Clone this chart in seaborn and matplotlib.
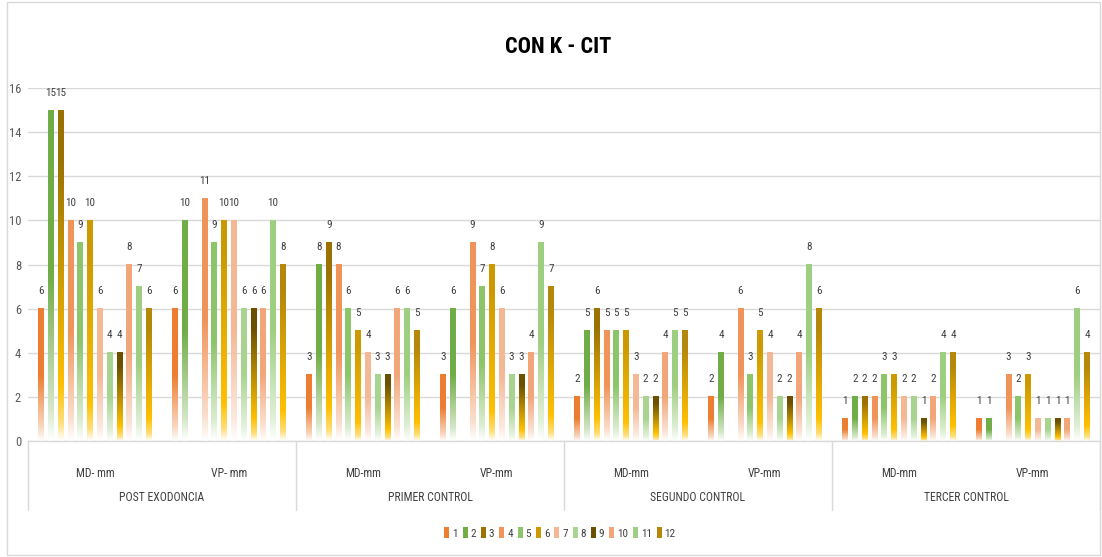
import numpy as np
import pandas as pd
import matplotlib
matplotlib.use("Agg")
import matplotlib.pyplot as plt
import seaborn as sns
from matplotlib import font_manager
from matplotlib.patches import Rectangle, Patch
from matplotlib.colors import to_rgb

# ---------------- data ----------------
categories = ["MD- mm", "VP- mm", "MD-mm", "VP-mm", "MD-mm", "VP-mm", "MD-mm", "VP-mm"]
phases = ["POST EXODONCIA", "PRIMER CONTROL", "SEGUNDO CONTROL", "TERCER CONTROL"]
series_names = ["1", "2", "3", "4", "5", "6", "7", "8", "9", "10", "11", "12"]

s1 = [6, 6, 3, 3, 2, 2, 1, 1]
s2 = [15, 10, 8, 6, 5, 4, 2, 1]
s3 = [15, 0, 9, 0, 6, 0, 2, 0]
s4 = [10, 11, 8, 9, 5, 6, 2, 3]
s5 = [9, 9, 6, 7, 5, 3, 3, 2]
s6 = [10, 10, 5, 8, 5, 5, 3, 3]
s7 = [6, 10, 4, 6, 3, 4, 2, 1]
s8 = [4, 6, 3, 3, 2, 2, 2, 1]
s9 = [4, 6, 3, 3, 2, 2, 1, 1]
s10 = [8, 6, 6, 4, 4, 4, 2, 1]
s11 = [7, 10, 6, 9, 5, 8, 4, 6]
s12 = [6, 8, 5, 7, 5, 6, 4, 4]
series_values = [s1, s2, s3, s4, s5, s6, s7, s8, s9, s10, s11, s12]

yticks = [0, 2, 4, 6, 8, 10, 12, 14, 16]

colors = ["#ED7D31", "#70AD47", "#9B7200", "#F0945A", "#8CC56A", "#CC9A00",
          "#F4B895", "#A8D490", "#6B5000", "#F2A679", "#9ECF81", "#B5870B"]
gold_series = {2, 5, 8, 11}

# ---------------- fonts ----------------
names = {f.name for f in font_manager.fontManager.ttflist}
base_font = "DejaVu Sans"
for cand in ["Liberation Sans Narrow", "Roboto Condensed", "Liberation Sans", "Roboto"]:
    if cand in names:
        base_font = cand
        break

sns.set_theme(style="white")
plt.rcParams["font.family"] = [base_font, "DejaVu Sans"]

# ---------------- long form table ----------------
x_keys = [f"{i}" for i in range(len(categories))]
rows = []
for sname, vals in zip(series_names, series_values):
    for k, v in zip(x_keys, vals):
        rows.append({"cat": k, "serie": sname, "valor": v})
df = pd.DataFrame(rows)

W, H = 1102, 557
fig = plt.figure(figsize=(W / 100, H / 100), dpi=100)
ax = fig.add_axes([28 / W, (H - 441) / H, 1072 / W, (441 - 88) / H])

sns.barplot(data=df, x="cat", y="valor", hue="serie", order=x_keys,
            hue_order=series_names, palette=dict(zip(series_names, colors)),
            width=0.878, gap=0.4, ax=ax, legend=False, errorbar=None,
            saturation=1)

white = np.array([1.0, 1.0, 1.0])
yellow = np.array(to_rgb("#FFC000"))


def gradient(color, gold, n=200):
    c = np.array(to_rgb(color))
    t = np.linspace(0, 1, n)
    if gold:
        stops = [0.0, 0.05, 0.17, 0.85, 1.0]
        cols = [white, 0.5 * yellow + 0.5 * white, yellow, c, c]
    else:
        stops = [0.0, 0.1, 0.5, 1.0]
        cols = [white, 0.3 * c + 0.7 * white, c, c]
    cols = np.array(cols)
    img = np.stack([np.interp(t, stops, cols[:, k]) for k in range(3)], axis=-1)
    return img[::-1][:, None, :]  # top row first


for si, cont in enumerate(ax.containers):
    for bar, v in zip(cont.patches, series_values[si]):
        if v <= 0:
            continue
        x0 = bar.get_x()
        w = bar.get_width()
        h = bar.get_height()
        bar.set_facecolor("none")
        bar.set_edgecolor("none")
        ax.imshow(gradient(colors[si], si in gold_series), extent=[x0, x0 + w, 0, h],
                  aspect="auto", interpolation="bilinear", zorder=2)
        ax.annotate(f"{v}", (x0 + w / 2, h), xytext=(0, 9), textcoords="offset points",
                    ha="center", va="bottom", fontsize=8, color="#404040", zorder=3)

ax.set_xlim(-0.5, len(categories) - 0.5)
ax.set_ylim(0, 16)

# grid and axes styling
ax.set_yticks(yticks)
ax.set_yticklabels([str(t) for t in yticks], fontsize=9, color="#595959")
ax.yaxis.grid(True, color="#D9D9D9", lw=1)
ax.set_axisbelow(True)
for side in ["top", "right", "left"]:
    ax.spines[side].set_visible(False)
ax.spines["bottom"].set_color("#D9D9D9")
ax.spines["bottom"].set_linewidth(1)
ax.tick_params(axis="y", length=0, pad=5)
ax.set_xticks(range(len(categories)))
ax.set_xticklabels(categories, fontsize=8.5, color="#404040")
ax.tick_params(axis="x", length=0, pad=19)
ax.set_xlabel("")
ax.set_ylabel("")

# second level labels and separators
trans = ax.get_xaxis_transform()
for i, ph in enumerate(phases):
    ax.text(2 * i + 0.5, -0.16, ph, transform=trans, ha="center", va="center",
            fontsize=8.5, color="#404040")
for b in range(len(phases) + 1):
    ax.plot([2 * b - 0.5, 2 * b - 0.5], [0, -0.195], transform=trans, color="#D9D9D9",
            lw=1, clip_on=False)

# title
fig.text(558 / W, 1 - 47 / H, "CON K - CIT", ha="center", va="center",
         fontsize=16, fontweight="bold", color="#000000")

# legend
handles = [Patch(facecolor=c, edgecolor="none") for c in colors]
fig.legend(handles, series_names, loc="center", bbox_to_anchor=(560 / W, 1 - 533 / H),
           ncol=12, frameon=False, fontsize=8, handlelength=0.45, handleheight=1.1,
           handletextpad=0.25, columnspacing=0.45, labelcolor="#404040")

# outer chart frame
fig.patches.append(Rectangle((7 / W, 2 / H), 1093 / W, 553 / H, transform=fig.transFigure,
                             facecolor="none", edgecolor="#D9D9D9", lw=1))

fig.savefig("out.png", dpi=100)
